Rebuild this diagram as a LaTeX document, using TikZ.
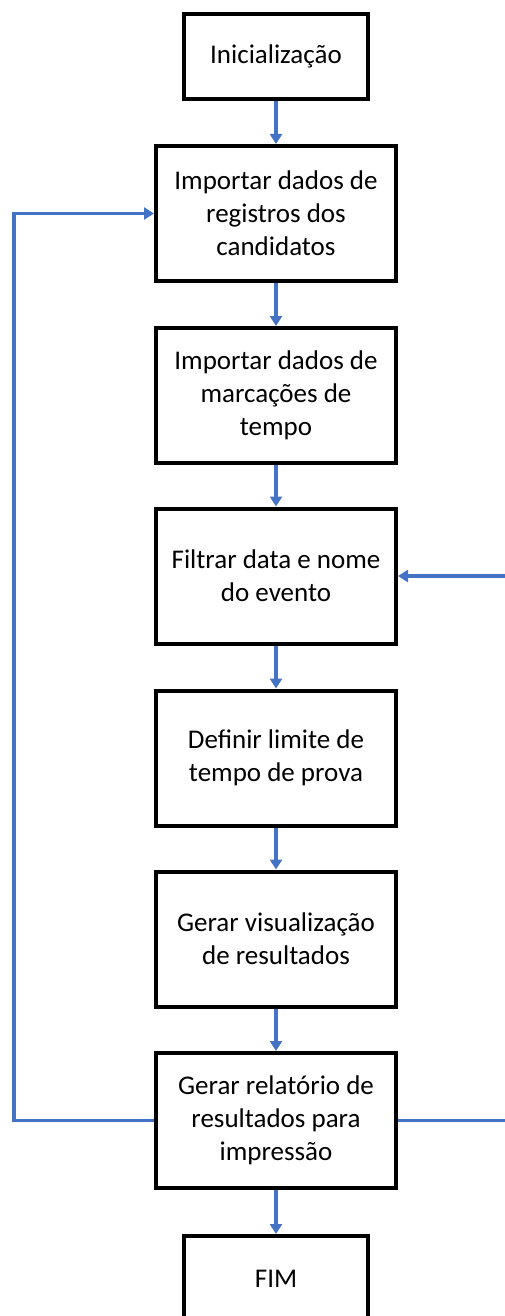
\documentclass[tikz,border=0pt]{standalone}
\usepackage{fontspec}
\setmainfont{Carlito}
\usetikzlibrary{arrows.meta}
\definecolor{flowblue}{HTML}{4472C4}
\begin{document}
\begin{tikzpicture}[x=1pt,y=-1pt,
  stepbox/.style={draw=black, line width=4pt, fill=white, align=center,
    font=\fontsize{27}{33}\selectfont, inner sep=0pt},
  bigbox/.style={stepbox, minimum width=240pt, minimum height=135pt},
  smallbox/.style={stepbox, minimum width=184pt, minimum height=85pt},
  flow/.style={draw=flowblue, line width=3.2pt,
    -{Triangle[width=12pt,length=10pt]}}]
\useasboundingbox (0,0) rectangle (504,1316);

\node[smallbox] (b1) at (276,56.5) {Inicialização};
\node[bigbox] (b2) at (276,213.5) {Importar dados de\\registros dos\\candidatos};
\node[bigbox] (b3) at (276,395.5) {Importar dados de\\marcações de\\tempo};
\node[bigbox] (b4) at (276,576) {Filtrar data e nome\\do evento};
\node[bigbox] (b5) at (276,758) {Definir limite de\\tempo de prova};
\node[bigbox] (b6) at (276,939) {Gerar visualização\\de resultados};
\node[bigbox] (b7) at (276,1120.5) {Gerar relatório de\\resultados para\\impressão};
\node[smallbox] (b8) at (276,1278.5) {FIM};

\coordinate (L) at (14,0);
\coordinate (R) at (507,0);

\draw[flow] (b1) -- (b2);
\draw[flow] (b2) -- (b3);
\draw[flow] (b3) -- (b4);
\draw[flow] (b4) -- (b5);
\draw[flow] (b5) -- (b6);
\draw[flow] (b6) -- (b7);
\draw[flow] (b7) -- (b8);

% return loops
\draw[flow] (b7.west) -- (b7.west -| L) |- (b2.west);
\draw[flow] (b7.east) -- (b7.east -| R) |- (b4.east);
\end{tikzpicture}
\end{document}
